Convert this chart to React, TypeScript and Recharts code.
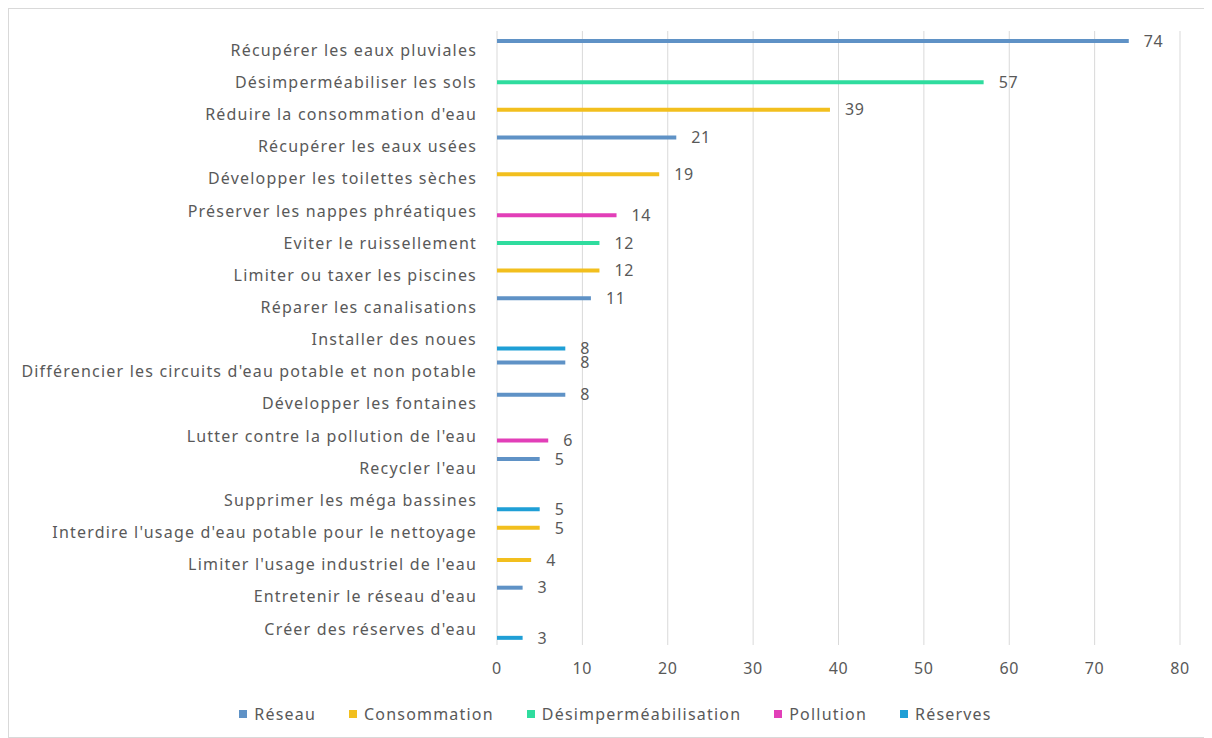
import React from 'react';
import {
  BarChart,
  Bar,
  XAxis,
  YAxis,
  CartesianGrid,
  Legend,
  LabelList,
} from 'recharts';

// Actions, top to bottom, and the family each one belongs to
const actions = [
  'Récupérer les eaux pluviales',
  'Désimperméabiliser les sols',
  "Réduire la consommation d'eau",
  'Récupérer les eaux usées',
  'Développer les toilettes sèches',
  'Préserver les nappes phréatiques',
  'Eviter le ruissellement',
  'Limiter ou taxer les piscines',
  'Réparer les canalisations',
  'Installer des noues',
  "Différencier les circuits d'eau potable et non potable",
  'Développer les fontaines',
  "Lutter contre la pollution de l'eau",
  "Recycler l'eau",
  'Supprimer les méga bassines',
  "Interdire l'usage d'eau potable pour le nettoyage",
  "Limiter l'usage industriel de l'eau",
  "Entretenir le réseau d'eau",
  "Créer des réserves d'eau",
];

const families = ['Réseau', 'Consommation', 'Désimperméabilisation', 'Pollution', 'Réserves'];

// one value per action, null where the action is not in that family
const reseau = [74, null, null, 21, null, null, null, null, 11, null, 8, 8, null, 5, null, null, null, 3, null];
const consommation = [null, null, 39, null, 19, null, null, 12, null, null, null, null, null, null, null, 5, 4, null, null];
const desimpermeabilisation = [null, 57, null, null, null, null, 12, null, null, null, null, null, null, null, null, null, null, null, null];
const pollution = [null, null, null, null, null, 14, null, null, null, null, null, null, 6, null, null, null, null, null, null];
const reserves = [null, null, null, null, null, null, null, null, null, 8, null, null, null, null, 5, null, null, null, 3];

const xTicks = [0, 10, 20, 30, 40, 50, 60, 70, 80];

const COLORS = ['#5f92c6', '#f2bf1e', '#2fdc9e', '#e23fb8', '#1f9fd6'];
const TEXT = '#595959';
const FONT = '"Noto Sans", sans-serif';
const SPACING = 1.2; // the source is a bit stretched sideways

const seriesValues = [reseau, consommation, desimpermeabilisation, pollution, reserves];

const chartData = actions.map((name, i) => {
  const row: Record<string, string | number | null> = { name };
  families.forEach((f, k) => {
    row[f] = seriesValues[k][i];
  });
  return row;
});

function LegendRow() {
  return (
    <div
      style={{
        display: 'flex',
        justifyContent: 'center',
        gap: 33,
        fontFamily: FONT,
        fontSize: 16,
        letterSpacing: SPACING,
        color: TEXT,
        marginLeft: 42,
      }}
    >
      {families.map((f, k) => (
        <div key={f} style={{ display: 'flex', alignItems: 'center' }}>
          <span
            style={{
              display: 'inline-block',
              width: 8,
              height: 8,
              background: COLORS[k],
              marginRight: 7,
            }}
          />
          <span>{f}</span>
        </div>
      ))}
    </div>
  );
}

export default function App() {
  return (
    <div
      style={{
        width: 1202,
        height: 728,
        border: '1px solid #d9d9d9',
        background: '#fff',
      }}
    >
      <BarChart
        width={1200}
        height={726}
        data={chartData}
        layout="vertical"
        margin={{ top: 22, right: 29, left: 0, bottom: 40 }}
        barSize={4}
        barGap={0.5}
      >
        <CartesianGrid horizontal={false} stroke="#d9d9d9" />
        <XAxis
          type="number"
          domain={[0, 80]}
          ticks={xTicks}
          axisLine={false}
          tickLine={false}
          tickSize={0}
          tickMargin={18}
          height={28}
          tick={{ fill: TEXT, fontSize: 16, fontFamily: FONT, letterSpacing: 0.6 }}
        />
        <YAxis
          type="category"
          dataKey="name"
          width={488}
          axisLine={false}
          tickLine={false}
          tickSize={0}
          tickMargin={20}
          interval={0}
          padding={{ top: 3, bottom: 0 }}
          tick={{ fill: TEXT, fontSize: 16, fontFamily: FONT, letterSpacing: SPACING }}
        />
        <Legend verticalAlign="bottom" content={() => <LegendRow />} wrapperStyle={{ bottom: 10 }} />
        {families.map((f, k) => (
          <Bar key={f} dataKey={f} fill={COLORS[k]} isAnimationActive={false}>
            <LabelList
              dataKey={f}
              position="right"
              offset={15}
              fill={TEXT}
              fontSize={16}
              fontFamily={FONT}
              letterSpacing={0.6}
            />
          </Bar>
        ))}
      </BarChart>
    </div>
  );
}
